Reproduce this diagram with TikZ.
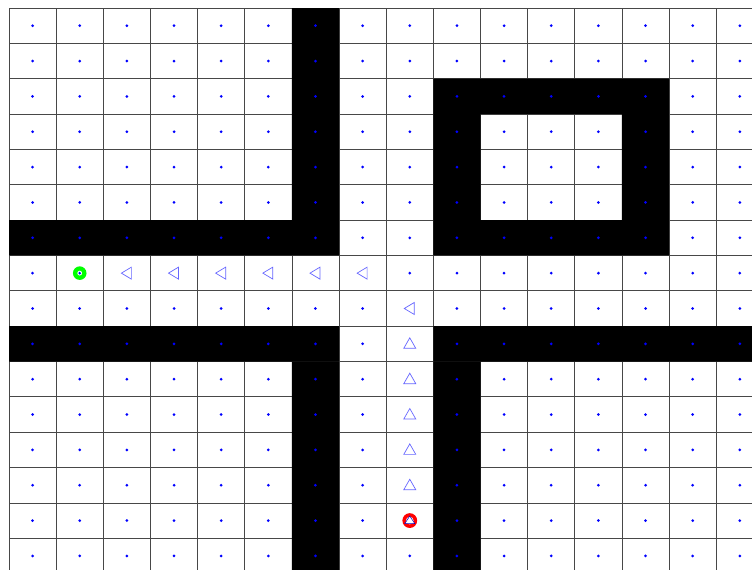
\documentclass[tikz,border=0pt]{standalone}
\usepackage{tikz}

\begin{document}
\begin{tikzpicture}[x=47.15pt, y=-35.35pt,
        gridline/.style={black!72, line width=0.8pt},
        wall/.style={fill=black},
        cellpt/.style={fill=blue},
        marker/.style={draw=blue!60, fill=white, line width=0.7pt, line join=miter}]
        % Canvas (same margins as the plot)
        \useasboundingbox (-0.1909,-0.2263) rectangle (15.7582,15.8699);
        \clip (-0.1909,-0.2263) rectangle (15.7582,15.8699);
        \fill[white] (-0.1909,-0.2263) rectangle (15.7582,15.8699);

        % Grid
        \foreach \c in {0,...,16} \draw[gridline] (\c,0) -- (\c,16);
        \foreach \r in {0,...,16} \draw[gridline] (0,\r) -- (16,\r);

        % Walls
        \fill[wall] (6,0) rectangle (7,7) (0,6) rectangle (6,7);
        \fill[wall] (9,2) rectangle (14,3) (9,6) rectangle (14,7);
        \fill[wall] (9,3) rectangle (10,6) (13,3) rectangle (14,6);
        \fill[wall] (0,9) rectangle (7,10) (9,9) rectangle (16,10);
        \fill[wall] (6,10) rectangle (7,16) (9,10) rectangle (10,16);

        % Cell centres
        \foreach \c in {0,...,15}
            \foreach \r in {0,...,15}
                \fill[cellpt] (\c+0.5,\r+0.5) circle (1.5pt);

        % Path (left moves, then up moves)
        \foreach \c in {2,...,7}
            \draw[marker, shift={(\c+0.5,7.5)}] (-5.5pt,0pt) -- (4.5pt,6pt) -- (4.5pt,-6pt) -- cycle;
        \draw[marker, shift={(8.5,8.5)}] (-5.5pt,0pt) -- (4.5pt,6pt) -- (4.5pt,-6pt) -- cycle;
        \foreach \r in {9,...,13}
            \draw[marker, shift={(8.5,\r+0.5)}] (0pt,6pt) -- (6pt,-4.5pt) -- (-6pt,-4.5pt) -- cycle;

        % Start and goal
        \fill[green] (1.5,7.5) circle (6.8pt);
        \fill[white] (1.5,7.5) circle (2.4pt);
        \fill[cellpt] (1.5,7.5) circle (1.4pt);
        \fill[red] (8.5,14.5) circle (7.4pt);
        \fill[white] (8.5,14.5) circle (3.8pt);
        \draw[draw=blue!75!black, fill=white, line width=0.5pt, shift={(8.5,14.5)}] (0pt,4.6pt) -- (5pt,-3pt) -- (-5pt,-3pt) -- cycle;
    \end{tikzpicture}
\end{document}
